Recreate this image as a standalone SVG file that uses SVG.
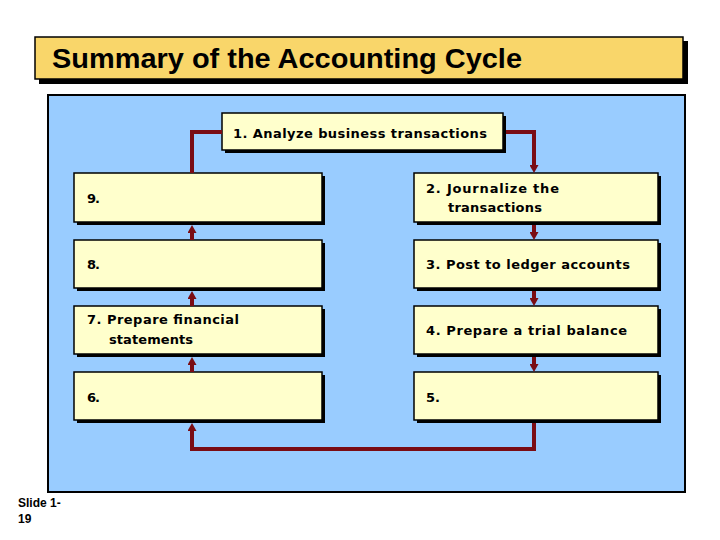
<svg xmlns="http://www.w3.org/2000/svg" width="720" height="540" viewBox="0 0 720 540">
<defs>
<style>
.shadow{fill:#000}
.box{fill:#ffffcc;stroke:#000;stroke-width:1.5}
.t{font-family:"DejaVu Sans","Liberation Sans",sans-serif;font-weight:bold;font-size:13px;fill:#000}
.conn{fill:none;stroke:#7a0c14;stroke-width:4}
</style>
<marker id="ah" markerUnits="userSpaceOnUse" markerWidth="9" markerHeight="9" refX="2" refY="4.5" orient="auto" viewBox="0 0 9 9">
<path d="M0,0 L8,4.5 L0,9 z" fill="#7a0c14"/>
</marker>
</defs>
<rect width="720" height="540" fill="#fff"/>
<g id="title">
<rect x="39" y="41" width="649" height="43" class="shadow"/>
<rect x="35" y="37" width="648" height="42" fill="#f9d66a" stroke="#000" stroke-width="1.5"/>
<text x="52" y="68" font-family="Liberation Sans,Arial,sans-serif" font-weight="bold" font-size="28" textLength="470" lengthAdjust="spacingAndGlyphs">Summary of the Accounting Cycle</text>
</g>
<g id="panel">
<rect x="48" y="95" width="637" height="397" fill="#99ccff" stroke="#000" stroke-width="2"/>
</g>
<g id="n1">
<rect x="225" y="116" width="281" height="37" class="shadow"/>
<rect x="222" y="113" width="281" height="37" class="box"/>
<text x="233" y="138" class="t" textLength="254">1. Analyze business transactions</text>
</g>
<g id="n9">
<rect x="77" y="176" width="248" height="49" class="shadow"/>
<rect x="74" y="173" width="248" height="49" class="box"/>
<text x="87" y="203" class="t" textLength="13">9.</text>
</g>
<g id="n8">
<rect x="77" y="243" width="248" height="48" class="shadow"/>
<rect x="74" y="240" width="248" height="48" class="box"/>
<text x="87" y="269" class="t" textLength="13">8.</text>
</g>
<g id="n7">
<rect x="77" y="309" width="248" height="48" class="shadow"/>
<rect x="74" y="306" width="248" height="48" class="box"/>
<text x="87" y="324" class="t" textLength="152">7. Prepare financial</text>
<text x="109" y="344" class="t" textLength="84">statements</text>
</g>
<g id="n6">
<rect x="77" y="375" width="248" height="48" class="shadow"/>
<rect x="74" y="372" width="248" height="48" class="box"/>
<text x="87" y="402" class="t" textLength="13">6.</text>
</g>
<g id="n2">
<rect x="417" y="176" width="244" height="49" class="shadow"/>
<rect x="414" y="173" width="244" height="49" class="box"/>
<text x="426" y="193" class="t" textLength="133">2. Journalize the</text>
<text x="448" y="212" class="t" textLength="94">transactions</text>
</g>
<g id="n3">
<rect x="417" y="243" width="244" height="48" class="shadow"/>
<rect x="414" y="240" width="244" height="48" class="box"/>
<text x="426" y="269" class="t" textLength="204">3. Post to ledger accounts</text>
</g>
<g id="n4">
<rect x="417" y="309" width="244" height="48" class="shadow"/>
<rect x="414" y="306" width="244" height="48" class="box"/>
<text x="426" y="335" class="t" textLength="201">4. Prepare a trial balance</text>
</g>
<g id="n5">
<rect x="417" y="375" width="244" height="48" class="shadow"/>
<rect x="414" y="372" width="244" height="48" class="box"/>
<text x="426" y="402" class="t" textLength="14">5.</text>
</g>
<g id="connectors">
<path class="conn" d="M506,132 H534 V167" marker-end="url(#ah)"/>
<path class="conn" d="M534,225 V234" marker-end="url(#ah)"/>
<path class="conn" d="M534,291 V300" marker-end="url(#ah)"/>
<path class="conn" d="M534,357 V366" marker-end="url(#ah)"/>
<path class="conn" d="M534,423 V449 H192 V429" marker-end="url(#ah)"/>
<path class="conn" d="M192,372 V363" marker-end="url(#ah)"/>
<path class="conn" d="M192,306 V297" marker-end="url(#ah)"/>
<path class="conn" d="M192,240 V231" marker-end="url(#ah)"/>
<path class="conn" d="M192,173 V132 H222"/>
</g>
<g id="footer">
<text x="18" y="507" font-family="Liberation Sans,Arial,sans-serif" font-weight="bold" font-size="12">Slide 1-</text>
<text x="18" y="523" font-family="Liberation Sans,Arial,sans-serif" font-weight="bold" font-size="12">19</text>
</g>
</svg>
